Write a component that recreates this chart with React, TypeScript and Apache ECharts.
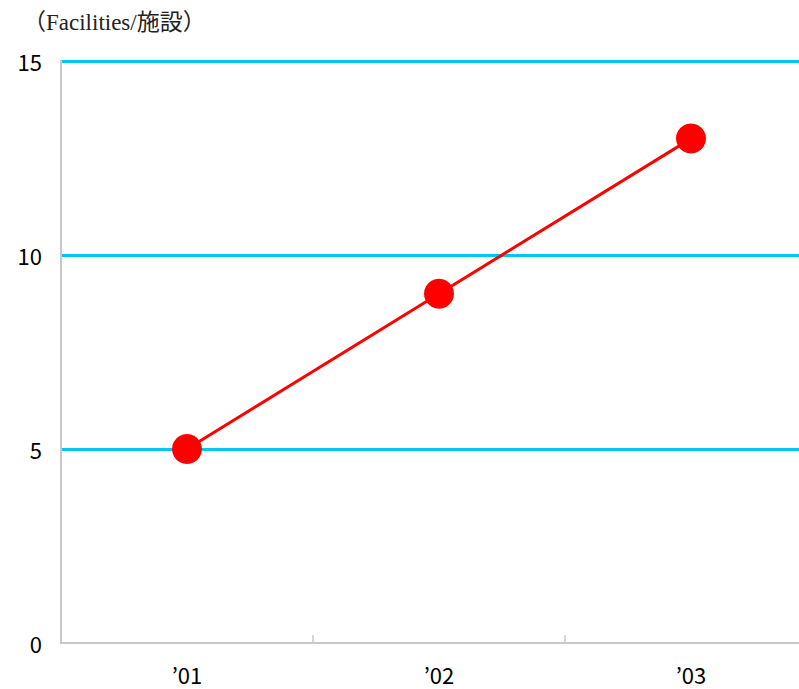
import React, { useEffect, useRef } from "react";
import * as echarts from "echarts";

const categories = ["’01", "’02", "’03"];
const facilities = [5, 9, 13];
const yTicks = { min: 0, max: 15, interval: 5 };
const unitLabel = "（Facilities/施設）";

export default function App() {
  const ref = useRef<HTMLDivElement>(null);
  useEffect(() => {
    const chart = echarts.init(ref.current!, null, { renderer: "svg" });
    chart.setOption({
      animation: false,
      backgroundColor: "#ffffff",
      title: {
        text: unitLabel,
        left: 18,
        top: 6,
        textStyle: {
          fontFamily: "'Liberation Serif', 'Noto Sans CJK JP', serif",
          fontSize: 23,
          fontWeight: "normal",
          color: "#222",
        },
      },
      grid: { left: 61, top: 61, right: 0, bottom: 46, containLabel: false },
      xAxis: {
        type: "category",
        data: categories,
        boundaryGap: true,
        axisLine: { show: true, lineStyle: { color: "#c8c8c8", width: 2 } },
        axisTick: { show: true, inside: true, length: 8, lineStyle: { color: "#c8c8c8", width: 1.5 } },
        axisLabel: {
          margin: 20,
          fontSize: 22,
          color: "#000",
          fontFamily: "'Noto Sans CJK JP', Roboto, sans-serif",
        },
        splitLine: { show: false },
      },
      yAxis: {
        type: "value",
        min: yTicks.min,
        max: yTicks.max,
        interval: yTicks.interval,
        axisLine: { show: true, lineStyle: { color: "#c8c8c8", width: 2 } },
        axisTick: { show: false },
        axisLabel: {
          margin: 19,
          fontSize: 22,
          color: "#000",
          fontFamily: "'Noto Sans CJK JP', Roboto, sans-serif",
        },
        splitLine: {
          show: true,
          lineStyle: { color: "#00c8f0", width: 3 },
          showMinLine: false,
        },
      },
      series: [
        {
          type: "line",
          data: facilities,
          symbol: "circle",
          symbolSize: 30,
          itemStyle: { color: "#ff0000" },
          lineStyle: { color: "#ff0000", width: 3 },
          z: 5,
        },
      ],
    });
    return () => chart.dispose();
  }, []);
  return (
    <div style={{ position: "absolute", left: 0, top: 0, width: 799, height: 689, overflow: "hidden" }}>
      <div ref={ref} style={{ width: 817, height: 689 }} />
    </div>
  );
}
